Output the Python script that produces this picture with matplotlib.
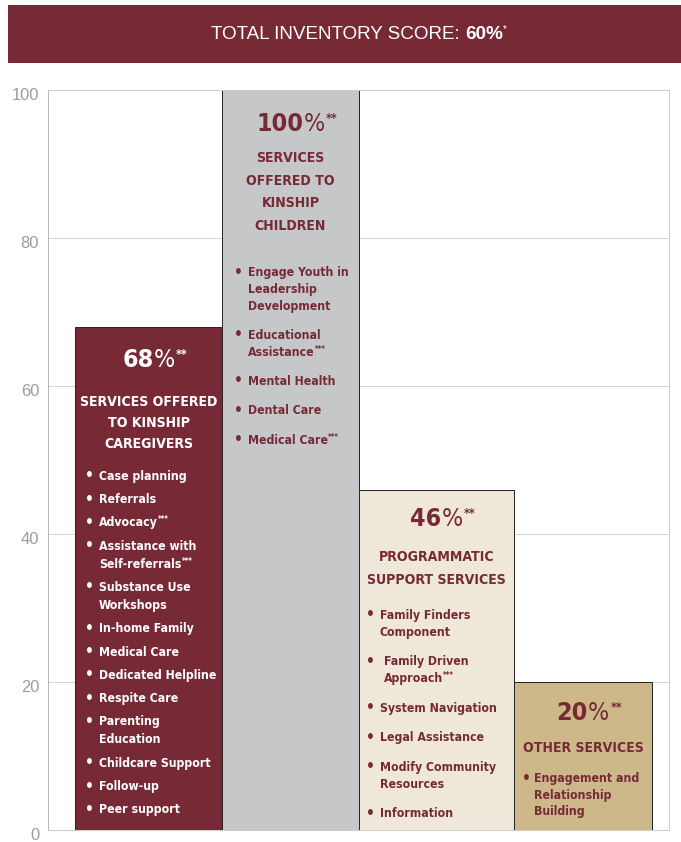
import re
import matplotlib
matplotlib.use("Agg")
import matplotlib.pyplot as plt
from matplotlib import font_manager as fm
from matplotlib.patches import Rectangle
from matplotlib.transforms import IdentityTransform, ScaledTranslation

# ---------------- data ----------------
title_label = "TOTAL INVENTORY SCORE:"
total_score = 60
categories = [
    "SERVICES OFFERED\nTO KINSHIP\nCAREGIVERS",
    "SERVICES\nOFFERED TO\nKINSHIP\nCHILDREN",
    "PROGRAMMATIC\nSUPPORT SERVICES",
    "OTHER SERVICES",
]
scores = [68, 100, 46, 20]
items_caregivers = [
    "Case planning", "Referrals", "Advocacy***", "Assistance with\nSelf-referrals***",
    "Substance Use\nWorkshops", "In-home Family", "Medical Care", "Dedicated Helpline",
    "Respite Care", "Parenting\nEducation", "Childcare Support", "Follow-up", "Peer support",
]
items_children = [
    "Engage Youth in\nLeadership\nDevelopment", "Educational\nAssistance***",
    "Mental Health", "Dental Care", "Medical Care***",
]
items_programmatic = [
    "Family Finders\nComponent", " Family Driven\n Approach***", "System Navigation",
    "Legal Assistance", "Modify Community\nResources", "Information",
]
items_other = ["Engagement and\nRelationship\nBuilding"]
y_ticks = [0, 20, 40, 60, 80, 100]

all_items = [items_caregivers, items_children, items_programmatic, items_other]

# ---------------- fonts ----------------
def pick_font():
    fl = fm.fontManager.ttflist
    for f in fl:
        st = str(f.stretch).lower()
        if "condensed" in st or "narrow" in st or "Condensed" in f.name or "Narrow" in f.name:
            if "Mono" not in f.name and "CJK" not in f.name:
                return f.name, f.stretch
    names = {f.name for f in fl}
    for n in ["Roboto", "Lato", "Liberation Sans"]:
        if n in names:
            return n, "normal"
    return "DejaVu Sans", "normal"

COND_FAMILY, COND_STRETCH = pick_font()
NARROW = [COND_FAMILY, "DejaVu Sans"]
REG = ["Liberation Sans", "DejaVu Sans"]

# ---------------- style / layout (pixels) ----------------
W, H, DPI = 681, 842, 72
MAROON = "#772a36"
bar_colors = [MAROON, "#c6c7c9", "#efe8da", "#cdb88a"]
text_colors = ["white", MAROON, MAROON, MAROON]

AX_L, AX_R, AX_T, AX_B = 48, 669, 90, 830
bar_left_px = [75, 222, 359, 514]
bar_right_px = [222, 359, 514, 652]

layouts = [
    dict(pct=40, head=79, head_lh=21.0, item=153, gap=23.3, lh=18.0, bx=14, tx=24),
    dict(pct=41, head=72, head_lh=22.7, item=186, gap=29.3, lh=16.8, bx=16, tx=26),
    dict(pct=36, head=71, head_lh=23.0, item=129, gap=29.5, lh=17.0, bx=11, tx=21),
    dict(pct=38, head=70, head_lh=23.0, item=100, gap=29.5, lh=16.5, bx=12, tx=20),
]

fig = plt.figure(figsize=(W / DPI, H / DPI), dpi=DPI)
fig.patch.set_facecolor("white")
renderer = fig.canvas.get_renderer()
ID = IdentityTransform()


def text_width(s, **kw):
    t = fig.text(0, 0, s, transform=ID, **kw)
    w = t.get_window_extent(renderer).width
    t.remove()
    return w


def fit_size(sample, target_w, **kw):
    w = text_width(sample, fontsize=20, **kw)
    return 20.0 * target_w / w


def draw_runs(x, y_top, runs, align="left"):
    widths = [text_width(s, **kw) for s, kw, r in runs]
    total = sum(widths)
    x0 = x - total / 2 if align == "center" else (x - total if align == "right" else x)
    yb = H - y_top
    for (s, kw, rise), w in zip(runs, widths):
        fig.text(x0, yb + rise, s, transform=ID, ha="left", va="baseline", **kw)
        x0 += w
    return x0


CK = dict(family=NARROW, fontstretch=COND_STRETCH)
PCT_SIZE = 1.12 * fit_size("68", 28, fontweight="bold", **CK)
HEAD_SIZE = 1.03 * fit_size("SERVICES OFFERED", 134, fontweight="bold", **CK)
ITEM_SIZE = 1.05 * fit_size("Case planning", 83, fontweight="bold", **CK)

# ---------------- banner ----------------
fig.add_artist(Rectangle((8, H - 63), W - 8, 58, transform=ID, color=MAROON, lw=0))
TITLE_SIZE = min(19.5, fit_size(title_label + " 60%", 293, family=REG))
tkw = dict(family=REG, fontsize=TITLE_SIZE, color="white")
sp = text_width("a a", **tkw) - text_width("aa", **tkw)
w1 = text_width(title_label, **tkw)
w2 = text_width(f"{total_score}%", fontweight="bold", **tkw)
w3 = text_width("*", family=REG, fontsize=10, color="white")
x0 = 359 - (w1 + sp + w2 + w3) / 2
draw_runs(x0, 39, [(title_label, tkw, 0)])
draw_runs(x0 + w1 + sp, 39, [(f"{total_score}%", dict(fontweight="bold", **tkw), 0),
                             ("*", dict(family=REG, fontsize=10, color="white"), 7)])

# ---------------- axes & bars ----------------
ax = fig.add_axes([AX_L / W, (H - AX_B) / H, (AX_R - AX_L) / W, (AX_B - AX_T) / H])
ax.set_xlim(0, AX_R - AX_L)
ax.set_ylim(0, 100)
lefts = [l - AX_L for l in bar_left_px]
widths = [r - l for l, r in zip(bar_left_px, bar_right_px)]
ax.bar(lefts, scores, width=widths, align="edge", color=bar_colors,
       edgecolor="#262626", linewidth=1.0, zorder=2)
ax.set_axisbelow(True)
ax.grid(axis="y", color="#d6d6d6", linewidth=1.0)
ax.set_xticks([])
ax.set_yticks(y_ticks)
ax.set_yticklabels([str(v) for v in y_ticks], family=REG, fontsize=16.5, color="#9c9c9c")
ax.tick_params(axis="y", which="major", length=0, pad=9)
ax.set_yticks([0], minor=True)
ax.tick_params(axis="y", which="minor", length=10, color="#a8a8a8", width=1.0)
shift = ScaledTranslation(0, -4 / 72, fig.dpi_scale_trans)
for lab in ax.get_yticklabels():
    lab.set_transform(lab.get_transform() + shift)
for s in ax.spines.values():
    s.set_color("#cccccc")
    s.set_linewidth(1.0)
ax.spines["left"].set_color("#b8b8b8")

# ---------------- bar texts ----------------
for i, (cat, val, items) in enumerate(zip(categories, scores, all_items)):
    lay = layouts[i]
    col = text_colors[i]
    left = bar_left_px[i]
    cx = (bar_left_px[i] + bar_right_px[i]) / 2
    top = AX_B - val * (AX_B - AX_T) / 100.0

    # percentage
    nkw = dict(fontsize=PCT_SIZE, fontweight="bold", color=col, **CK)
    pkw = dict(fontsize=PCT_SIZE, color=col, **CK)
    skw = dict(fontsize=PCT_SIZE * 0.5, fontweight="bold", color=col, **CK)
    core_w = text_width(str(val), **nkw) + text_width("%", **pkw)
    end = draw_runs(cx - core_w / 2, top + lay["pct"], [(str(val), nkw, 0), ("%", pkw, 0)])
    draw_runs(end + 1, top + lay["pct"], [("**", skw, PCT_SIZE * 0.36)])

    # heading
    hkw = dict(fontsize=HEAD_SIZE, fontweight="bold", color=col, **CK)
    for j, line in enumerate(cat.split("\n")):
        draw_runs(cx, top + lay["head"] + j * lay["head_lh"], [(line, hkw, 0)], align="center")

    # bullet items
    ikw = dict(fontsize=ITEM_SIZE, fontweight="bold", color=col, **CK)
    bkw = dict(fontsize=ITEM_SIZE * 1.25, fontweight="bold", color=col, **CK)
    akw = dict(fontsize=ITEM_SIZE * 0.62, fontweight="bold", color=col, **CK)
    spw = text_width("a a", **ikw) - text_width("aa", **ikw)
    y = top + lay["item"]
    for item in items:
        lines = item.split("\n")
        draw_runs(left + lay["bx"], y + 0.5, [("\u2022", bkw, 0)], align="center")
        for j, line in enumerate(lines):
            indent = (len(line) - len(line.lstrip(" "))) * spw
            m = re.match(r"^(.*?)(\*+)$", line.strip())
            if m:
                runs = [(m.group(1), ikw, 0), (m.group(2), akw, ITEM_SIZE * 0.33)]
            else:
                runs = [(line.strip(), ikw, 0)]
            draw_runs(left + lay["tx"] + indent, y + j * lay["lh"], runs)
        y += lay["gap"] + (len(lines) - 1) * lay["lh"]

fig.savefig("out.png", dpi=DPI, facecolor="white")
